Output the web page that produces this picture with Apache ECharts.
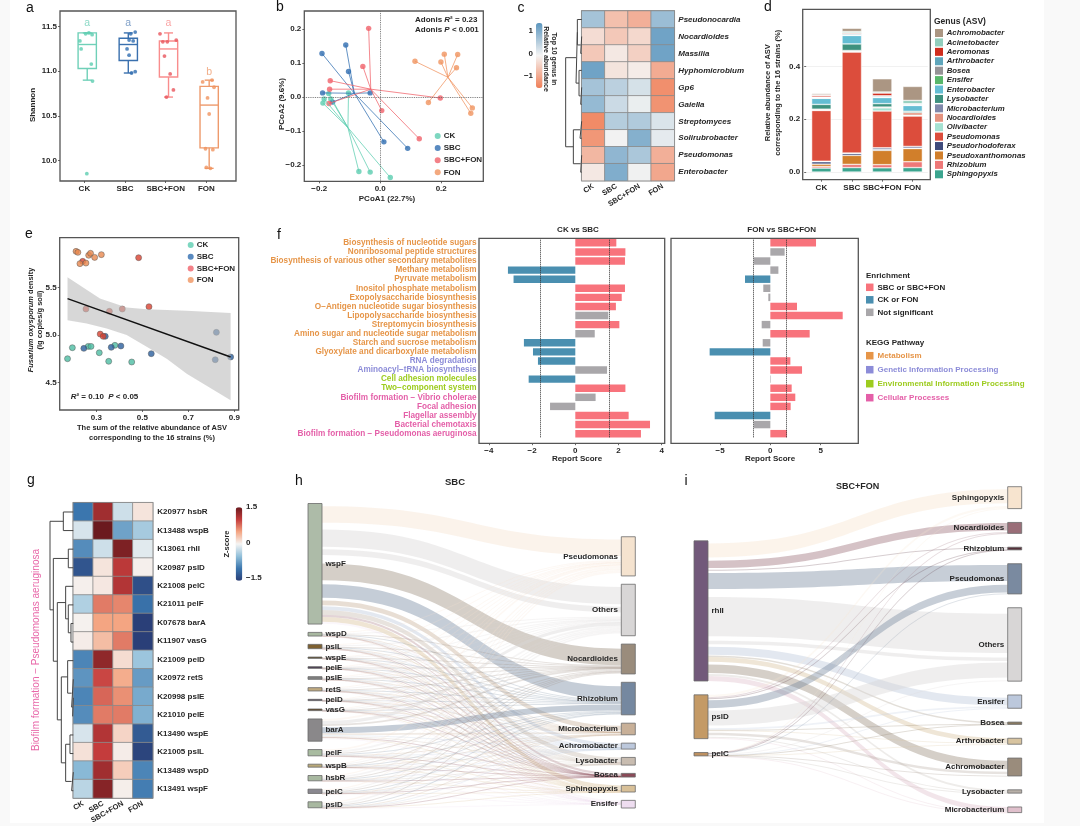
<!DOCTYPE html>
<html><head><meta charset="utf-8">
<style>
html,body{margin:0;padding:0;background:#f9f9f9;width:1080px;height:826px;overflow:hidden}
#paper{position:absolute;left:10px;top:0;width:1034px;height:823px;background:#fff}
#chart{position:absolute;left:0;top:0;width:1080px;height:826px;filter:blur(.4px)}
</style>
<script src="https://cdn.jsdelivr.net/npm/echarts@6/dist/echarts.min.js"></script>
</head><body><div id="paper"></div><div id="chart"></div>
<script>
// ---------- shared
const groups = ['CK','SBC','SBC+FON','FON'];
const legendColors = ['#5ccdb0','#2f6db0','#f0626a','#f0935f'];
// ---------- panel a: Shannon
const aBoxX = [0.07,1.08,2.07,3.07];
const aBoxes = [[10.90,11.03,11.30,11.43,11.43],[10.98,11.12,11.30,11.37,11.43],[10.71,10.935,11.25,11.34,11.43],[9.91,10.14,10.62,10.83,10.90]];
const aBoxColors = ['#6fd0b8','#3a70ae','#f98d8d','#ee9a6c'];
const aPtColors = ['#5ccdb0','#2f6db0','#e8555c','#f0935f'];
const aPointsCK = [[-0.11,11.34],[-0.08,11.25],[0.03,11.42],[0.11,11.43],[0.19,11.41],[0.17,11.08],[0.20,10.89],[0.06,9.85]];
const aPointsSBC = [[1.14,11.42],[1.25,11.44],[1.10,11.35],[1.20,11.34],[1.05,11.25],[1.10,11.18],[1.16,10.98],[1.25,10.995]];
const aPointsMix = [[1.86,11.42],[1.93,11.33],[2.04,11.33],[2.26,11.35],[1.97,11.17],[2.11,10.97],[2.19,10.79],[2.02,10.71]];
const aPointsFON = [[2.91,10.88],[3.14,10.90],[3.19,10.82],[3.03,10.70],[3.07,10.52],[2.98,10.13],[3.16,10.12],[3.0,9.92],[3.1,9.91]];
const aLetters = [[0.07,11.545,'a'],[1.08,11.545,'a'],[2.07,11.545,'a'],[3.07,10.99,'b']];
const aLetterColors = ['#6fd0b8','#5f88ba','#f98d8d','#ee9a6c'];
// ---------- panel b: PCoA
const bCentroids = [[-0.106,-0.09],[-0.085,0.011],[-0.031,0.023],[0.222,0.058]];
const bCK = [[-0.104,0.012],[-0.169,0.010],[-0.184,-0.006],[-0.162,-0.006],[-0.188,-0.018],[-0.07,-0.219],[-0.033,-0.221],[0.033,-0.237]];
const bSBC = [[-0.191,0.128],[-0.113,0.153],[-0.104,0.075],[-0.189,0.012],[-0.033,0.012],[-0.156,-0.015],[0.012,-0.132],[0.09,-0.151]];
const bMix = [[-0.038,0.202],[-0.057,0.09],[-0.164,0.048],[-0.166,0.023],[-0.168,-0.019],[0.005,-0.04],[0.128,-0.123],[0.197,-0.003]];
const bFON = [[0.114,0.105],[0.199,0.103],[0.21,0.126],[0.254,0.125],[0.25,0.086],[0.158,-0.016],[0.302,-0.032],[0.297,-0.048]];
// ---------- panel c: heatmap
const cGenera = ['Pseudonocardia','Nocardioides','Massilia','Hyphomicrobium','Gp6','Gaiella','Streptomyces','Solirubrobacter','Pseudomonas','Enterobacter'];
const cValues = [[0.7,-0.7,-0.9,0.8],[-0.35,-0.6,-0.4,1.2],[-0.6,-0.2,-0.5,1.2],[1.2,-0.25,-0.15,-0.95],[0.7,0.5,0.25,-1.3],[0.85,0.35,0.05,-1.25],[-1.35,0.55,0.6,0.2],[-1.2,-0.02,1.0,0.1],[-0.8,0.9,0.65,-0.9],[-0.2,1.05,0,-1.0]];
const cTree = [48,[17,[13,0,[3,1,2]],[8,3,[3,4,5]]],[25,[5,6,7],[3,8,9]]];
// ---------- panel d: stacked bars, bottom to top
const dGenusLegend = ['Achromobacter','Acinetobacter','Aeromonas','Arthrobacter','Bosea','Ensifer','Enterobacter','Lysobacter','Microbacterium','Nocardioides','Olivibacter','Pseudomonas','Pseudorhodoferax','Pseudoxanthomonas','Rhizobium','Sphingopyxis'];
const dColors = ['#ab9683','#91cebd','#cf2d1e','#5ea5bb','#959396','#58b76b','#64bdd3','#3e917e','#8088aa','#e5937f','#a5e2d2','#dc4d3c','#3e4a7b','#d17f2b','#ee7878','#3ca58f'];
const dSphingopyxis=[.015,.017,.016,.017], dRhizobium=[.006,.012,.012,.022], dPseudoxanthomonas=[.009,.034,.054,.05], dPseudorhodoferax=[.009,.007,.004,.001], dMicrobacterium=[.002,.002,.006,.007], dPseudomonas=[.192,.382,.139,.115], dOlivibacter=[.002,.003,.012,.003], dNocardioides=[.003,.003,.003,.01], dLysobacter=[.018,.025,.013,.005], dEnterobacter=[.023,.032,.023,.022], dEnsifer=[.001,.001,.001,.001], dBosea=[.002,.002,.003,.002], dArthrobacter=[.002,.004,.003,.003], dAeromonas=[.006,.003,.01,.001], dAcinetobacter=[.002,.005,.004,.012], dAchromobacter=[.005,.012,.05,.053];
const dStack = {Sphingopyxis:dSphingopyxis,Rhizobium:dRhizobium,Pseudoxanthomonas:dPseudoxanthomonas,Pseudorhodoferax:dPseudorhodoferax,Microbacterium:dMicrobacterium,Pseudomonas:dPseudomonas,Olivibacter:dOlivibacter,Nocardioides:dNocardioides,Lysobacter:dLysobacter,Enterobacter:dEnterobacter,Ensifer:dEnsifer,Bosea:dBosea,Arthrobacter:dArthrobacter,Aeromonas:dAeromonas,Acinetobacter:dAcinetobacter,Achromobacter:dAchromobacter};
// ---------- panel e: scatter + fit
const eCK=[[0.175,4.75],[0.196,4.866],[0.265,4.88],[0.277,4.88],[0.313,4.813],[0.354,4.722],[0.381,4.891],[0.454,4.715]];
const eSBC=[[0.246,4.859],[0.339,4.986],[0.365,4.87],[0.407,4.884],[0.539,4.803],[0.822,5.028],[0.817,4.739],[0.884,4.768]];
const eMix=[[0.241,5.778],[0.484,5.817],[0.529,5.299],[0.255,5.275],[0.357,5.25],[0.413,5.275],[0.317,5.01],[0.33,4.986]];
const eFON=[[0.212,5.884],[0.22,5.873],[0.229,5.754],[0.255,5.76],[0.267,5.842],[0.275,5.863],[0.293,5.82],[0.322,5.849]];
const ePointColors=['#4cbda3','#2a5f9e','#d9412f','#e8884f'];
const eFit=[[0.175,5.384],[0.884,4.768]];
const eUpper=[[0.175,5.609],[0.316,5.387],[0.432,5.292],[0.519,5.271],[0.693,5.257],[0.884,5.232]];
const eLower=[[0.175,5.155],[0.258,5.123],[0.345,5.07],[0.432,5.0],[0.519,4.877],[0.606,4.75],[0.693,4.59],[0.884,4.31]];
// ---------- panel f
const fPathways=['Biosynthesis of nucleotide sugars','Nonribosomal peptide structures','Biosynthesis of various other secondary metabolites','Methane metabolism','Pyruvate metabolism','Inositol phosphate metabolism','Exopolysaccharide biosynthesis','O\u2212Antigen nucleotide sugar biosynthesis','Lipopolysaccharide biosynthesis','Streptomycin biosynthesis','Amino sugar and nucleotide sugar metabolism','Starch and sucrose metabolism','Glyoxylate and dicarboxylate metabolism','RNA degradation','Aminoacyl\u2212tRNA biosynthesis','Cell adhesion molecules','Two\u2212component system','Biofilm formation \u2212 Vibrio cholerae','Focal adhesion','Flagellar assembly','Bacterial chemotaxis','Biofilm formation \u2212 Pseudomonas aeruginosa'];
const fPathwayClass=[0,0,0,0,0,0,0,0,0,0,0,0,0,1,1,2,2,3,3,3,3,3];
const keggNames=['Metabolism','Genetic Information Processing','Environmental Information Processing','Cellular Processes'];
const keggColors=['#e69548','#8c8cd8','#9dcc1f','#e45fa8'];
const enrichNames=['SBC or SBC+FON','CK or FON','Not significant'];
const enrichColors=['#f8737c','#4a8fb0','#a9a7aa'];
const fLeftValues=[1.9,2.32,2.3,-3.12,-2.86,2.3,2.15,1.88,1.53,2.04,0.9,-2.38,-1.96,-1.73,1.47,-2.16,2.32,0.94,-1.17,2.47,3.46,3.04];
const fLeftClass=[0,0,0,1,1,0,0,0,2,0,2,1,1,1,2,1,0,2,2,0,0,0];
const fRightValues=[4.54,1.42,-1.62,0.8,-2.52,-0.7,-0.2,2.65,7.19,-0.86,3.91,-0.76,-6.03,1.99,3.15,0.05,2.12,2.48,2.02,-5.53,-1.62,1.66];
const fRightClass=[0,2,2,2,1,2,2,0,0,2,0,2,1,0,0,2,0,0,0,1,2,0];
const fLeftCut=[-1.64,1.58], fRightCut=[-1.65,1.6];
// ---------- panel g
const gGenes=['K20977 hsbR','K13488 wspB','K13061 rhlI','K20987 pslD','K21008 pelC','K21011 pelF','K07678 barA','K11907 vasG','K21009 pelD','K20972 retS','K20998 pslE','K21010 pelE','K13490 wspE','K21005 pslL','K13489 wspD','K13491 wspF'];
const gValues=[[-1.0,1.2,-0.2,0.1],[-0.15,1.5,-0.7,-0.4],[-0.85,-0.2,1.4,-0.1],[-1.3,0.1,1.05,0.03],[0.03,0.08,1.1,-1.35],[-0.35,0.7,0.65,-1.05],[0.02,0.5,0.5,-1.5],[0.05,0.35,0.7,-1.5],[-0.9,1.3,0.15,-0.45],[-0.8,0.95,0.45,-0.75],[-0.9,0.8,0.6,-0.65],[-0.85,0.7,0.7,-0.6],[-0.15,1.1,0.2,-1.25],[0.12,1.0,0.05,-1.45],[-0.55,1.2,0.25,-0.9],[-0.3,1.35,0.04,-0.95]];
const gTree=[70,[30,0,1],[60,[15,2,3],[48,[23,4,[15,5,[7,6,7]]],[36,[17,8,[5,9,[2,10,11]]],[23,[10,12,13],[5,14,15]]]]]];
// ---------- panel h sankey. A flow is a number, or [gap, band, gap, band, ...] when the ribbon shows white gaps
const hGenes=['wspF','wspD','pslL','wspE','pelE','pslE','retS','pelD','vasG','barA','pelF','wspB','hsbR','pelC','pslD'];
const hGeneTotals=[363,11,13,4,5,8,10,4,5,67,19,9,16,13,18];
const hGeneColors=['#adbba8','#a8b8a0','#7d6030','#5a4a28','#4a3a50','#808080','#c0aa80','#3a2a40','#5a4020','#8a888a','#a8bba0','#b8a878','#a8b8a0','#8a8890','#a8b8a0'];
const hGenera=['Pseudomonas','Others','Nocardioides','Rhizobium','Microbacterium','Achromobacter','Lysobacter','Bosea','Sphingopyxis','Ensifer'];
const hGenusTotals=[118,155,90,98,34,18,23,11,20,23];
const hGenusColors=['#f5e3cf','#d8d6d6','#9a8c7c','#7588a0','#c8b098','#bcc8dc','#c8bcb0','#8a4a58','#d8c098','#eeddf0'];
const hFlows=[[[8,50,12],[8,52,8,17,12],[14,50],[12,41],[8,14,3],12,14,7,14,6],[2,3,1.5,2,.5,.5,.5,.2,.4,.4],[3,4,2,2,.5,.3,.5,.1,.3,.3],[1,1.2,.5,.7,.2,.1,.1,.05,.1,.05],[1.2,1.5,.7,.8,.2,.1,.2,.1,.1,.1],[2,2.4,1,1.5,.3,.2,.2,.1,.2,.1],[2.5,3,1.5,1.5,.3,.2,.4,.1,.2,.3],[1,1.2,.5,.7,.2,.1,.1,.05,.1,.05],[1.2,1.6,.6,.8,.2,.1,.2,.1,.1,.1],[6,10,5,[4,18],5,3,3,1,3,3],[5,6,3,3,.6,.4,.5,.1,.2,.2],[2,3,1.2,1.5,.4,.2,.3,.1,.2,.1],[4,5,2.2,2.8,.6,.3,.4,.2,.3,.2],[3.5,4,2,2,.4,.2,.3,.1,.2,.3],[5,5.5,2.5,3,.6,.3,.5,.1,.3,.2]];
// ---------- panel i sankey
const iGenes=['rhlI','pslD','pelC'];
const iGeneTotals=[422,132,9];
const iGeneColors=['#72597a','#c49a66','#bd9060'];
const iGenera=['Sphingopyxis','Nocardioides','Rhizobium','Pseudomonas','Others','Ensifer','Bosea','Arthrobacter','Achromobacter','Lysobacter','Microbacterium'];
const iGenusTotals=[66,33,8,91,221,40,7,18,54,10,17];
const iGenusColors=['#f7e4cf','#9a6e78','#55303a','#7a8aa0','#d8d6d6','#bcc8dc','#8a7a60','#d8c4a0','#9a8c7c','#b8b0a8','#e0c0cc'];
const iFlows=[[[8,42,8],[2,22,5],[0,3,3],[4,48,6],[18,118,14,10],[8,24,2],5,14,[8,26,3],6,15],[7,3,1.5,[5,24,2],[5,45,8],5,1.5,3,[4,8,4],3.5,1.5],[1,1,.5,2,3,.5,.2,.5,1,.3,.3]];

// ========== build
const FF='"Liberation Sans",Arial,sans-serif';
const INK='#262626';
const grids=[],xAxes=[],yAxes=[],series=[],graphics=[],visualMaps=[],legends=[];
const lab=(o)=>Object.assign({fontFamily:FF,fontWeight:'bold',fontSize:8,color:INK},o||{});
function addGrid(l,t,w,h,frame){grids.push({left:l,top:t,width:w,height:h,show:!!frame,borderColor:'#555',borderWidth:frame?1.3:0,backgroundColor:'transparent'});return grids.length-1;}
function hiddenAxis(o){return Object.assign({show:false,axisLine:{show:false,onZero:false},axisTick:{show:false},axisLabel:{show:false},splitLine:{show:false}},o);}
function valueAxis(g,pos,min,max,ticks,fmt,extra){return Object.assign({type:'value',gridIndex:g,position:pos,min,max,scale:true,axisLine:{show:false,onZero:false},splitLine:{show:false},
 axisTick:{show:true,length:2,customValues:ticks,lineStyle:{color:'#444',width:.8}},
 axisLabel:Object.assign(lab({margin:pos==='bottom'?3.5:3}),{customValues:ticks,formatter:fmt,showMinLabel:true,showMaxLabel:true})},extra||{});}
function T(text,x,y,o){o=o||{};graphics.push({type:'text',x,y,rotation:o.rot||0,silent:true,z:50,style:{text,fontFamily:FF,fontSize:o.size||8,fontWeight:o.weight||'bold',fontStyle:o.style||'normal',fill:o.color||INK,align:o.align||'center',verticalAlign:'middle',lineHeight:o.lh||undefined,rich:o.rich}});}
function frame(x,y,w,h){graphics.push({type:'rect',z:40,silent:true,shape:{x,y,width:w,height:h},style:{fill:'none',stroke:'#555',lineWidth:1.3}});}
const minus=s=>String(s).replace('-','\u2212');
const RICH=(sz)=>({i:{fontStyle:'italic',fontWeight:'bold',fontSize:sz,fontFamily:FF,fill:INK,color:INK}});

// panel letters
[['a',30,8],['b',280,7],['c',521,8],['d',768,7],['e',29,234],['f',279,235],['g',31,480],['h',299,481],['i',686,481]].forEach(p=>T(p[0],p[1],p[2],{size:14,weight:'normal',color:'#111'}));

// --- a
(function(){
 const g=addGrid(60,11,176,170,true);
 xAxes.push(valueAxis(g,'bottom',-0.6,3.73,[0,1,2,3],v=>groups[v]));
 yAxes.push(valueAxis(g,'left',9.768,11.676,[10,10.5,11,11.5],v=>v.toFixed(1)));
 const ai=xAxes.length-1;
 groups.forEach((name,k)=>{
  series.push({type:'custom',name:'a-box-'+name,xAxisIndex:ai,yAxisIndex:ai,silent:true,data:[[aBoxX[k]].concat(aBoxes[k])],encode:{x:0,y:[1,2,3,4,5]},
   renderItem(p,api){const x=api.value(0),hw=0.225,cw=0.11;const P=(a,b)=>api.coord([a,b]);
    const lo=api.value(1),q1=api.value(2),m=api.value(3),q3=api.value(4),hi=api.value(5);
    const st={stroke:aBoxColors[k],lineWidth:1.4,fill:'none'};
    const L=(a,b)=>({type:'line',shape:{x1:a[0],y1:a[1],x2:b[0],y2:b[1]},style:st});
    const tl=P(x-hw,q3),br=P(x+hw,q1);
    return {type:'group',children:[{type:'rect',shape:{x:tl[0],y:tl[1],width:br[0]-tl[0],height:br[1]-tl[1]},style:st},L(P(x-hw,m),P(x+hw,m)),L(P(x,q3),P(x,hi)),L(P(x,q1),P(x,lo)),L(P(x-cw,lo),P(x+cw,lo)),L(P(x-cw,hi),P(x+cw,hi))]};}});
 });
 [aPointsCK,aPointsSBC,aPointsMix,aPointsFON].forEach((d,k)=>series.push({type:'scatter',name:'a-pts-'+k,xAxisIndex:ai,yAxisIndex:ai,data:d,symbolSize:3.8,itemStyle:{color:aPtColors[k]},silent:true}));
 series.push({type:'scatter',name:'a-letters',xAxisIndex:ai,yAxisIndex:ai,silent:true,symbolSize:1,itemStyle:{color:'transparent'},
  data:aLetters.map((d,k)=>({value:d,label:{show:true,position:'inside',formatter:d[2],color:aLetterColors[k],fontSize:10.5,fontFamily:FF}}))});
 T('Shannon',33,105,{rot:Math.PI/2});
})();

// --- b
(function(){
 const g=addGrid(304.3,11,179,170.3,true);
 xAxes.push(valueAxis(g,'bottom',-0.249,0.338,[-0.2,0,0.2],v=>minus(v.toFixed(1))));
 yAxes.push(valueAxis(g,'left',-0.248,0.253,[-0.2,-0.1,0,0.1,0.2],v=>minus(v.toFixed(1))));
 const ai=xAxes.length-1;
 series.push({type:'line',name:'b-zero',xAxisIndex:ai,yAxisIndex:ai,data:[],silent:true,markLine:{silent:true,symbol:'none',label:{show:false},lineStyle:{type:'dotted',color:'#666',width:.9},data:[{xAxis:0},{yAxis:0}],animation:false}});
 [bCK,bSBC,bMix,bFON].forEach((d,k)=>{
  const seg=[];d.forEach(p=>{seg.push(bCentroids[k],p,['-','-']);});
  series.push({type:'line',name:'b-seg-'+k,xAxisIndex:ai,yAxisIndex:ai,data:seg,symbol:'none',silent:true,connectNulls:false,lineStyle:{color:legendColors[k],width:1,opacity:.75}});
 });
 [bCK,bSBC,bMix,bFON].forEach((d,k)=>series.push({type:'scatter',name:groups[k],xAxisIndex:ai,yAxisIndex:ai,data:d,symbolSize:5.4,itemStyle:{color:legendColors[k]},silent:true}));
 legends.push({padding:0,left:434.7,top:132,orient:'vertical',icon:'circle',itemWidth:6,itemHeight:6,itemGap:4.1,data:groups,selectedMode:false,textStyle:lab({padding:[0,0,0,-2]})});
 T('Adonis {i|R}\u00b2 = 0.23',415,20,{align:'left',rich:RICH(8)});
 T('Adonis {i|P} < 0.001',415,29.3,{align:'left',rich:RICH(8)});
 T('PCoA1 (22.7%)',387,199);
 T('PCoA2 (9.6%)',282,104,{rot:Math.PI/2});
})();

// dendrogram helper
function dendro(tree,nRows,l,t,w,h,maxH){
 const g=addGrid(l,t,w,h,false);
 xAxes.push(hiddenAxis({type:'value',gridIndex:g,min:0,max:maxH,inverse:true}));
 yAxes.push(hiddenAxis({type:'value',gridIndex:g,min:0,max:nRows,inverse:true}));
 const ai=xAxes.length-1,seg=[];
 (function walk(n){if(typeof n==='number')return{y:n+.5,h:0};const A=walk(n[1]),B=walk(n[2]);seg.push([A.h,A.y],[n[0],A.y],[n[0],B.y],[B.h,B.y],['-','-']);return{y:(A.y+B.y)/2,h:n[0]};})(tree);
 series.push({type:'line',name:'dendro'+ai,xAxisIndex:ai,yAxisIndex:ai,data:seg,symbol:'none',silent:true,connectNulls:false,lineStyle:{color:'#444',width:1}});
}
function heat(name,rows,vals,l,t,w,h,yFont,rot,rightMargin){
 const g=addGrid(l,t,w,h,true);grids[g].borderColor='#777';
 xAxes.push({type:'category',gridIndex:g,position:'bottom',data:groups,axisLine:{show:false,onZero:false},axisTick:{show:false},splitLine:{show:false},axisLabel:lab({rotate:rot,margin:5,interval:0,fontSize:7.5})});
 yAxes.push({type:'category',gridIndex:g,position:'right',inverse:true,data:rows,axisLine:{show:false,onZero:false},axisTick:{show:false},splitLine:{show:false},axisLabel:lab(Object.assign({margin:rightMargin,interval:0},yFont))});
 const ai=xAxes.length-1,d=[];vals.forEach((r,i)=>r.forEach((v,j)=>d.push([j,i,v])));
 series.push({type:'heatmap',name:name,xAxisIndex:ai,yAxisIndex:ai,data:d,silent:true,itemStyle:{borderColor:'#8a8a8a',borderWidth:.8}});
 return series.length-1;
}
// --- c
(function(){
 dendro(cTree,10,565,11,16.7,169.7,50);
 const s=heat('c-heat',cGenera,cValues,581.7,11,92.6,169.7,{fontStyle:'italic',fontSize:8},32,4);
 visualMaps.push({type:'continuous',seriesIndex:s,min:-1.5,max:1.4,show:true,calculable:false,padding:0,left:536,top:23,itemWidth:6.5,itemHeight:65,text:null,showLabel:false,inRange:{color:['#f07f57','#f5f4f3','#5b96bf']},hoverLink:false});
 T('1',533,31,{align:'right'});T('0',533,54,{align:'right'});T('\u22121',533,76,{align:'right'});
 T('Top 10 genus in\nRelative abundance',550,59,{rot:-Math.PI/2,size:7,lh:8.6});
})();

// --- d
(function(){
 const g=addGrid(806.2,9.3,121.6,170.4,false);
 xAxes.push({type:'category',gridIndex:g,data:groups,position:'bottom',axisLine:{show:false,onZero:false},axisTick:{show:true,alignWithLabel:true,length:2,lineStyle:{color:'#444',width:.8}},splitLine:{show:false},axisLabel:lab({interval:0,margin:4,fontSize:8})});
 yAxes.push(valueAxis(g,'left',-0.029,0.616,[0,.2,.4],v=>v.toFixed(1),{splitLine:{show:true,lineStyle:{color:'#eeeeee',width:.8}}}));
 yAxes[yAxes.length-1].axisLabel.margin=6;
 const ai=xAxes.length-1;
 Object.keys(dStack).forEach(name=>{
  series.push({type:'bar',name,xAxisIndex:ai,yAxisIndex:ai,stack:'d',barWidth:19.5,data:dStack[name],silent:true,itemStyle:{color:dColors[dGenusLegend.indexOf(name)],borderColor:'#fff',borderWidth:.5}});
 });
 frame(802.7,9.3,127.6,170.4);
 legends.push({padding:0,left:935,top:29,orient:'vertical',icon:'rect',itemWidth:8,itemHeight:8,itemGap:1.42,data:dGenusLegend,selectedMode:false,itemStyle:{borderWidth:0},textStyle:lab({fontStyle:'italic',fontSize:7.8,padding:[0,0,0,-1.3]})});
 T('Genus (ASV)',934,21.7,{align:'left',size:8.5});
 T('Relative abundance of ASV\ncorresponding to the 16 strains (%)',773,92.7,{rot:Math.PI/2,size:7.5,lh:10});
})();

// --- e
(function(){
 const g=addGrid(59.7,237.7,179,172.3,true);
 xAxes.push(valueAxis(g,'bottom',0.141,0.919,[.3,.5,.7,.9],v=>v.toFixed(1)));
 yAxes.push(valueAxis(g,'left',4.208,6.028,[4.5,5,5.5],v=>v.toFixed(1)));
 const ai=xAxes.length-1;
 [eCK,eSBC,eMix,eFON].forEach((d,k)=>series.push({type:'scatter',name:'e-'+k,xAxisIndex:ai,yAxisIndex:ai,data:d,symbolSize:6,silent:true,itemStyle:{color:ePointColors[k],borderColor:'#555',borderWidth:.6}}));
 series.push({type:'custom',name:'e-band',xAxisIndex:ai,yAxisIndex:ai,silent:true,z:3,data:[[0,0]],clip:true,encode:{x:0,y:1},
  renderItem(p,api){const pts=eUpper.concat(eLower.slice().reverse()).map(d=>api.coord(d));return {type:'polygon',shape:{points:pts},style:{fill:'rgba(190,190,190,.62)'}};}});
 series.push({type:'line',name:'e-fit',xAxisIndex:ai,yAxisIndex:ai,data:eFit,symbol:'none',silent:true,z:4,lineStyle:{color:'#111',width:1.5}});
 legends.push({padding:0,left:187.7,top:241,orient:'vertical',icon:'circle',itemWidth:6,itemHeight:6,itemGap:3.7,data:groups,selectedMode:false,textStyle:lab({padding:[0,0,0,-2]})});
 T('{i|R}\u00b2 = 0.10  {i|P} < 0.05',70.7,397,{align:'left',rich:RICH(8)});
 T('{i|Fusarium oxysporum} density\n(lg copies/g soil)',35,320,{rot:Math.PI/2,rich:RICH(7.5),size:7.5,lh:9});
 T('The sum of the relative abundance of ASV\ncorresponding to the 16 strains (%)',152,433,{size:7.5,lh:10});
})();

// --- f
function fPanel(vals,cls,cut,l,w,xmin,xmax,ticks,showLabels){
 const g=addGrid(l,238.3,w,199.9,false);
 xAxes.push(valueAxis(g,'bottom',xmin,xmax,ticks,v=>minus(v),{offset:5}));
 yAxes.push({type:'category',gridIndex:g,inverse:true,data:fPathways,axisLine:{show:false,onZero:false},axisTick:{show:false},splitLine:{show:false},
  axisLabel:showLabels?{show:true,interval:0,margin:2.5,fontFamily:FF,fontSize:8.2,fontWeight:'bold',color:(v,i)=>keggColors[fPathwayClass[i]]}:{show:false}});
 const ai=xAxes.length-1;
 enrichNames.forEach((name,k)=>{
  const s={type:'bar',name,xAxisIndex:ai,yAxisIndex:ai,stack:'f'+ai,barWidth:'82%',silent:true,data:vals.map((v,i)=>cls[i]===k?v:'-'),itemStyle:{color:enrichColors[k]}};
  if(k===2)s.markLine={silent:true,symbol:'none',label:{show:false},animation:false,z:10,lineStyle:{type:'dotted',color:'#333',width:1},data:[{xAxis:cut[0]},{xAxis:cut[1]}]};
  series.push(s);
 });
 frame(l,238.3,w,205);
}
fPanel(fLeftValues,fLeftClass,fLeftCut,479,185.7,-4.46,4.14,[-4,-2,0,2,4],true);
fPanel(fRightValues,fRightClass,fRightCut,671,187.3,-9.87,8.74,[-5,0,5],false);
T('CK vs SBC',578,230);T('FON vs SBC+FON',781.7,230);
T('Report Score',577,459);T('Report Score',770,459);
T('Enrichment',866,276,{align:'left'});
legends.push({padding:0,left:866,top:283.3,orient:'vertical',icon:'rect',itemWidth:7.5,itemHeight:7.5,itemGap:4.5,data:enrichNames,selectedMode:false,itemStyle:{borderWidth:0},textStyle:lab({padding:[0,0,0,-1]})});
T('KEGG Pathway',866,342.3,{align:'left'});
keggNames.forEach((n,k)=>{const y=355.7+k*14;graphics.push({type:'rect',silent:true,z:40,shape:{x:866,y:y-3.75,width:7.5,height:7.5},style:{fill:keggColors[k]}});T(n,877.5,y,{align:'left',color:keggColors[k],size:8});});

// --- g
(function(){
 dendro(gTree,16,50,502.7,23.3,297.3,70);
 const s=heat('g-heat',gGenes,gValues,73.3,502.7,79.4,297.3,{fontSize:8},30,4.6);
 visualMaps.push({type:'continuous',seriesIndex:s,min:-1.5,max:1.5,show:true,calculable:false,padding:0,left:235.7,top:507.3,itemWidth:6.6,itemHeight:73.4,text:null,showLabel:false,hoverLink:false,
  inRange:{color:['#2a3f78','#3b76ae','#92c0da','#f5f4f3','#f4a582','#c43c3c','#6b1a1e']}});
 T('1.5',246,507,{align:'left'});T('0',246,542.7,{align:'left'});T('\u22121.5',246,578,{align:'left'});
 T('Z-score',227,544,{rot:Math.PI/2,size:7.5});
 T('Biofilm formation \u2212 Pseudomonas aeruginosa',36,650,{rot:Math.PI/2,color:'#e866a8',weight:'normal',size:10});
})();

// --- sankeys
function sankey(name,genes,gTot,gCol,genera,tTot,tCol,flows,leftSpacers,rightSpacers,box,gap){
 const nodes=[],links=[];
 const ghost=(nm,v,depth)=>({name:nm,value:v,depth,itemStyle:{opacity:0,borderWidth:0},label:{show:false}});
 if(leftSpacers[0])nodes.push(ghost(' L0',leftSpacers[0],0));
 genes.forEach((n,i)=>nodes.push({name:n,value:gTot[i],depth:0,itemStyle:{color:gCol[i],borderColor:'#6b6b6b',borderWidth:.8},label:{position:'right',distance:3}}));
 if(leftSpacers[1])nodes.push(ghost(' L1',leftSpacers[1],0));
 if(rightSpacers[0])nodes.push(ghost(' R0',rightSpacers[0],1));
 genera.forEach((n,i)=>nodes.push({name:n,value:tTot[i],depth:1,itemStyle:{color:tCol[i],borderColor:'#6b6b6b',borderWidth:.8},label:{position:'left',distance:3}}));
 flows.forEach((r,i)=>r.forEach((v,j)=>{
  const parts=Array.isArray(v)?v:[0,v];
  parts.forEach((w,q)=>{ if(!w)return;
   const visible=q%2===1;
   links.push({source:genes[i],target:genera[j],value:w,lineStyle:{opacity:visible?(w>=10?.42:.24):0}});
  });
 }));
 series.push(Object.assign({type:'sankey',name,silent:true,layoutIterations:0,nodeAlign:'left',draggable:false,nodeWidth:14,nodeGap:gap,data:nodes,links,lineStyle:{color:'target',opacity:.42,curveness:.5},label:{fontFamily:FF,fontSize:8,fontWeight:'bold',color:INK},emphasis:{disabled:true}},box));
}
sankey('h',hGenes,hGeneTotals,hGeneColors,hGenera,hGenusTotals,hGenusColors,hFlows,[0,0],[75,0],{left:308,top:503.5,right:1080-635.3,bottom:826-808},8.33);
sankey('i',iGenes,iGeneTotals,iGeneColors,iGenera,iGenusTotals,iGenusColors,iFlows,[121.5,131.5],[0,0],{left:694,top:486.7,right:1080-1021.7,bottom:826-813.4},13.83);
T('SBC',455,482.3,{size:9.5});T('SBC+FON',857.7,486.3,{size:9});

const chart=echarts.init(document.getElementById('chart'),null,{renderer:'canvas',width:1080,height:826});
chart.setOption({animation:false,backgroundColor:'transparent',tooltip:{show:false},textStyle:{fontFamily:FF},grid:grids,xAxis:xAxes,yAxis:yAxes,series,legend:legends,visualMap:visualMaps,graphic:{elements:graphics}});
</script></body></html>
